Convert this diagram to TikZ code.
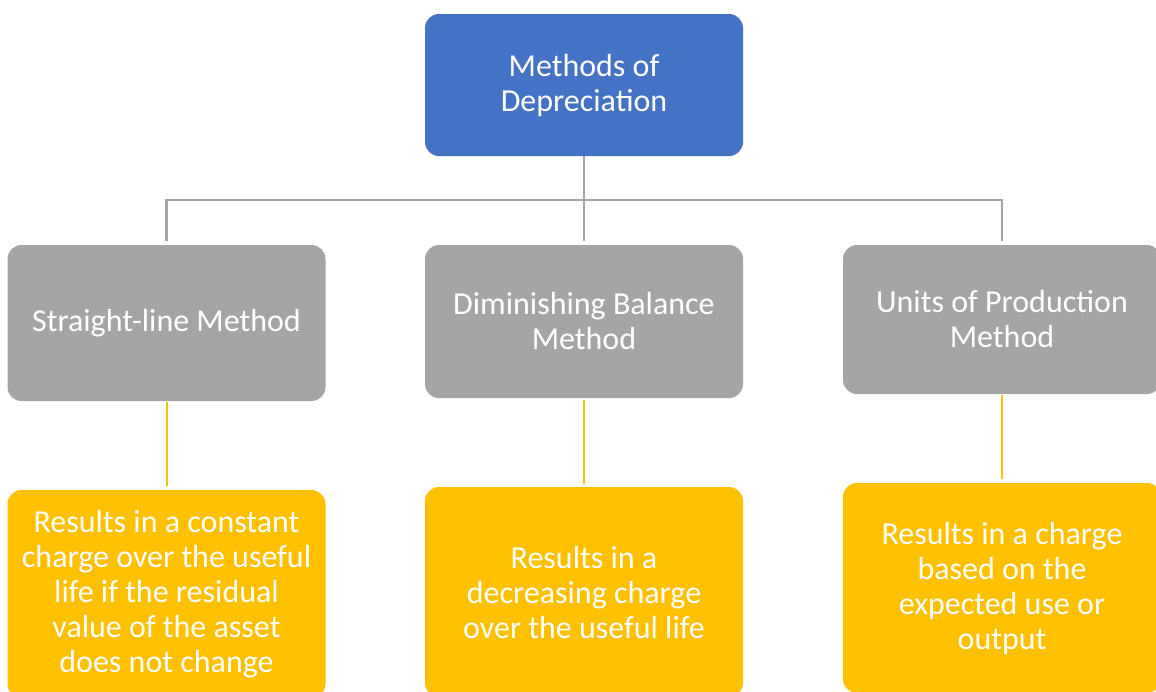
\documentclass[tikz,border=0pt]{standalone}
\usepackage{fontspec}
\setmainfont{Carlito}
\definecolor{topblue}{HTML}{4472C4}
\definecolor{midgray}{HTML}{A5A5A5}
\definecolor{gold}{HTML}{FFC000}
\tikzset{
  box/.style={rectangle, rounded corners=14pt, minimum width=318pt,
    inner sep=0pt, text=white, align=center,
    font=\fontsize{32}{35}\selectfont},
  headbox/.style={box, fill=topblue, minimum height=142pt},
  methodbox/.style={box, fill=midgray},
  resultbox/.style={box, fill=gold, minimum height=210pt},
  grayline/.style={draw=midgray, line width=2.5pt},
  goldline/.style={draw=gold, line width=2pt},
}
\begin{document}
\begin{tikzpicture}[x=1pt,y=-1pt]
\clip (0,0) rectangle (1156,691);
\fill[white] (0,0) rectangle (1156,691);

% root
\node[headbox] (root) at (584,85) {Methods of\\Depreciation};

% methods
\node[methodbox, minimum height=156pt] (gl) at (166.5,323) {Straight-line Method};
\node[methodbox, minimum height=153pt] (gm) at (584,321.5) {Diminishing Balance\\Method};
\node[methodbox, minimum height=149pt] (gr) at (1002,319.5) {Units of Production\\Method};

% results
\node[resultbox, minimum height=208pt] (yl) at (166.5,594) {Results in a constant\\charge over the useful\\life if the residual\\value of the asset\\does not change};
\node[resultbox] (ym) at (584,592) {Results in a\\decreasing charge\\over the useful life};
\node[resultbox] (yr) at (1002,588) {Results in a charge\\based on the\\expected use or\\output};

% hierarchy connectors
\draw[grayline, shorten >=4pt] (root.south) -- (gm.north);
\draw[grayline, shorten <=4pt, shorten >=4pt] (gl.north) -- ++(0,-45) -| (gr.north);

% method to result connectors
\draw[goldline, shorten <=1pt, shorten >=4pt] (gl.south) -- (yl.north);
\draw[goldline, shorten <=2pt, shorten >=3pt] (gm.south) -- (ym.north);
\draw[goldline, shorten <=1pt, shorten >=4pt] (gr.south) -- (yr.north);
\end{tikzpicture}
\end{document}
